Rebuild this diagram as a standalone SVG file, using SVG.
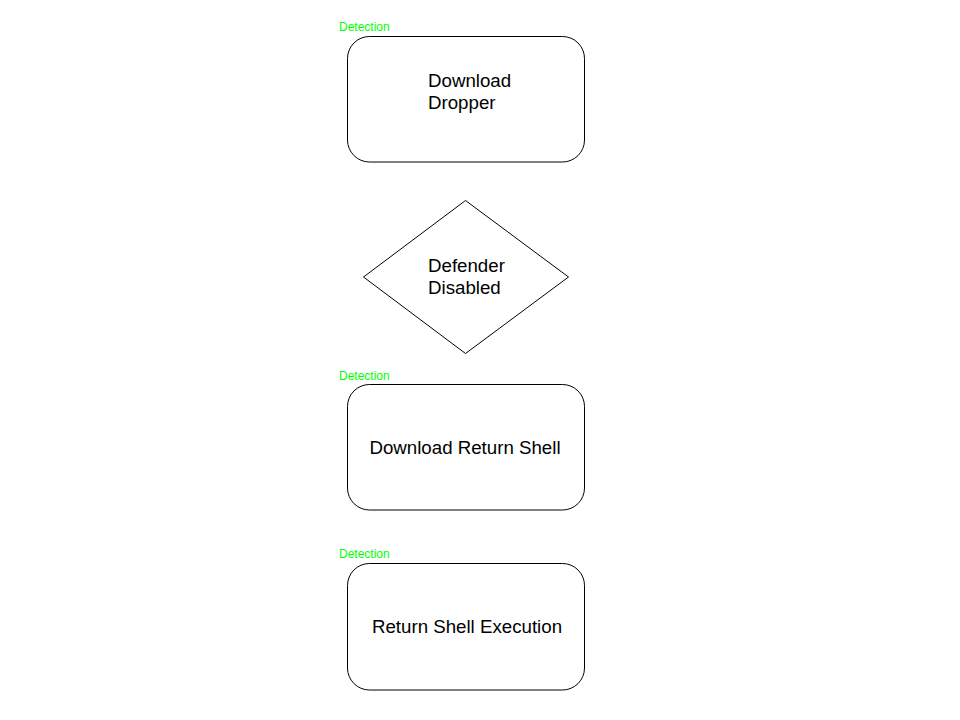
<svg xmlns="http://www.w3.org/2000/svg" width="960" height="720" viewBox="0 0 960 720">
<style>
.box{fill:#fff;stroke:#000;stroke-width:1}
.t{font-family:"Liberation Sans",Arial,sans-serif;font-size:18.7px;fill:#000}
.det{font-family:"Liberation Sans",Arial,sans-serif;font-size:12px;fill:#00ff00}
</style>
<rect width="960" height="720" fill="#fff"/>
<g id="connectors"></g>
<g id="download-dropper">
<text class="det" x="339" y="31">Detection</text>
<rect class="box" x="347.5" y="36.5" width="237" height="125.5" rx="22" ry="22"/>
<text class="t" x="428" y="87">Download</text>
<text class="t" x="428" y="109">Dropper</text>
</g>
<g id="defender-disabled">
<polygon class="box" points="465.5,200.5 568.5,277 465.5,353.5 363.5,277"/>
<text class="t" x="428" y="272">Defender</text>
<text class="t" x="428" y="294">Disabled</text>
</g>
<g id="download-return-shell">
<text class="det" x="339" y="380">Detection</text>
<rect class="box" x="347.5" y="384.5" width="237" height="125.5" rx="22" ry="22"/>
<text class="t" x="465" y="454" text-anchor="middle">Download Return Shell</text>
</g>
<g id="return-shell-execution">
<text class="det" x="339" y="558">Detection</text>
<rect class="box" x="347.5" y="563.5" width="237" height="126.5" rx="22" ry="22"/>
<text class="t" x="467" y="633" text-anchor="middle">Return Shell Execution</text>
</g>
</svg>
